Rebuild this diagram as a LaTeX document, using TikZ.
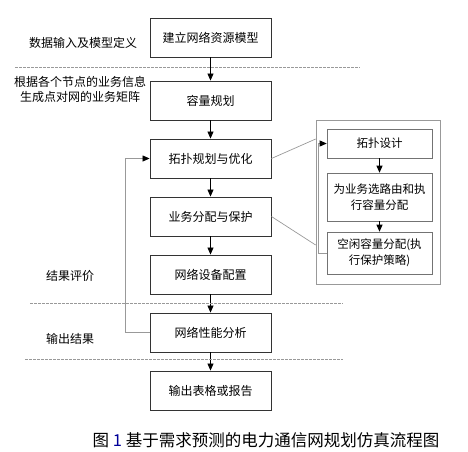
\documentclass[tikz,border=0pt]{standalone}
\usepackage{fontspec}
\newfontfamily\cjk{Noto Sans CJK SC}
\usetikzlibrary{arrows.meta}
\begin{document}
\begin{tikzpicture}[x=1pt,y=-1pt,
  mainbox/.style={draw=black!80,line width=0.9pt,minimum width=121pt,minimum height=39pt,inner sep=0pt,font=\cjk\fontsize{12}{14}\selectfont},
  subbox/.style={draw=black!55,line width=0.6pt,minimum width=105pt,inner sep=0pt,align=center,font=\cjk\fontsize{11.5}{16}\selectfont},
  lbl/.style={font=\cjk\fontsize{12}{15}\selectfont,align=center,inner sep=0pt},
  flow/.style={line width=0.8pt,-{Triangle[length=7pt,width=6pt]}},
  gline/.style={draw=black!40,line width=0.7pt},
  sep/.style={draw=black!40,dashed,dash pattern=on 2.5pt off 1.5pt,line width=0.6pt}]
\useasboundingbox (0,0) rectangle (468,451);
% main boxes
\node[mainbox] (b1) at (210.5,37.5) {建立网络资源模型};
\node[mainbox] (b2) at (210.5,100.5) {容量规划};
\node[mainbox] (b3) at (210.5,158.5) {拓扑规划与优化};
\node[mainbox] (b4) at (210.5,216.5) {业务分配与保护};
\node[mainbox] (b5) at (210.5,274.5) {网络设备配置};
\node[mainbox] (b6) at (210.5,332.5) {网络性能分析};
\node[mainbox] (b7) at (210.5,390.5) {输出表格或报告};
\draw[flow] (b1) -- (b2);
\draw[flow] (b2) -- (b3);
\draw[flow] (b3) -- (b4);
\draw[flow] (b4) -- (b5);
\draw[flow] (b5) -- (b6);
\draw[flow] (b6) -- (b7);
% separators
\coordinate (s1a) at (15,67); \coordinate (s1b) at (360,67);
\coordinate (s2a) at (30,303); \coordinate (s2b) at (343,303);
\coordinate (s3a) at (25,359); \coordinate (s3b) at (343,359);
\draw[sep] (s1a) -- (s1b);
\draw[sep] (s2a) -- (s2b);
\draw[sep] (s3a) -- (s3b);
% feedback
\draw[gline,arrows={-{Triangle[length=7pt,width=6pt,fill=black,color=black]}}] (b6.west) -- ++(-24,0) |- (b3.west);
% left labels
\node[lbl] (l1) at (83,43) {数据输入及模型定义};
\node[lbl] (l2) at (80,89) {根据各个节点的业务信息\\生成点对网的业务矩阵};
\node[lbl] (l3) at (70,276) {结果评价};
\node[lbl] (l4) at (70,339) {输出结果};
% right panel
\node[draw=black!40,line width=0.7pt,minimum width=124pt,minimum height=164pt,inner sep=0pt] (panel) at (378,202) {};
\node[subbox,minimum height=29pt] (r1) at (379.5,143.5) {拓扑设计};
\node[subbox,minimum height=48pt] (r2) at (379.5,197) {为业务选路由和执\\行容量分配};
\node[subbox,minimum height=42pt] (r3) at (379.5,253) {空闲容量分配(执\\行保护策略)};
\draw[flow] (r1) -- (r2);
\draw[flow] (r2) -- (r3);
\draw[gline,arrows={-{Triangle[length=7pt,width=6pt,fill=black,color=black]}}] (r3.west) -- ++(-8,0) |- (r1.west);
\draw[gline] (b3.east) -- (panel.north west |- 0,139);
\draw[gline] (b4.east) -- (panel.north west |- 0,245);
% caption
\node[font=\cjk\fontsize{16.5}{18}\selectfont,inner sep=0pt] (cap) at (266,440) {图 {\color{blue!60!black}1} 基于需求预测的电力通信网规划仿真流程图};
\end{tikzpicture}
\end{document}
